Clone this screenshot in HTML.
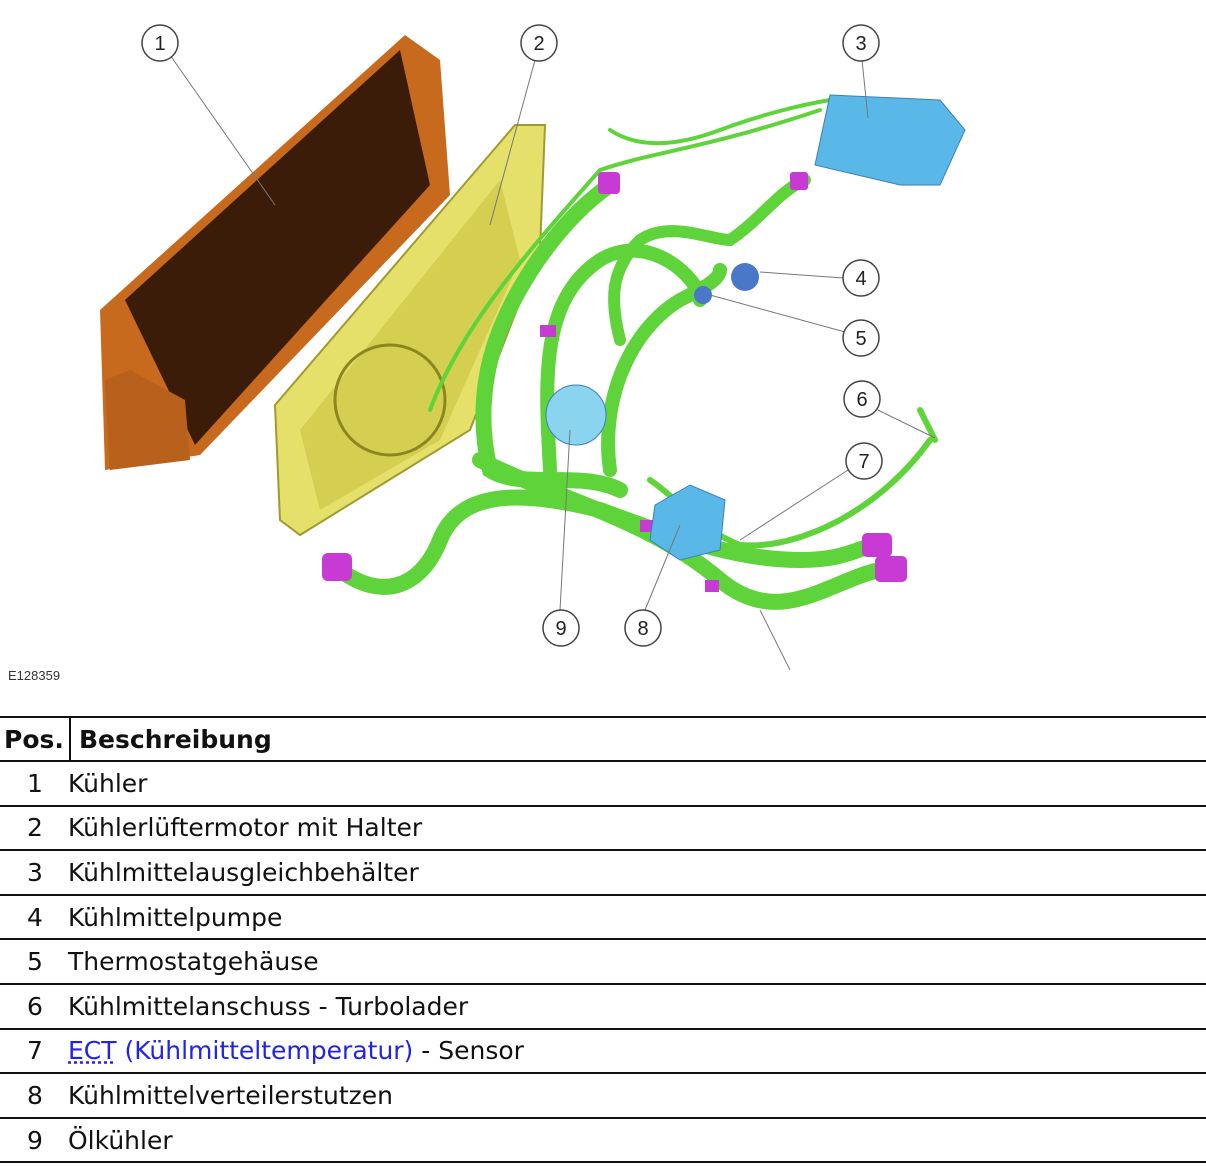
<!DOCTYPE html>
<html><head><meta charset="utf-8"><style>
body{margin:0;background:#fff;width:1206px;height:1166px;overflow:hidden;font-family:"DejaVu Sans","Liberation Sans",sans-serif;}
#d{position:absolute;left:0;top:0}
.code{position:absolute;left:8px;top:668px;font-size:13px;color:#333;font-family:"Liberation Sans",sans-serif}
table{position:absolute;left:0;top:716px;width:1206px;border-collapse:collapse;font-size:25px;color:#111}
td,th{border-top:2px solid #111;border-bottom:2px solid #111;padding:0;height:42.6px;text-align:left;white-space:nowrap}
th{font-weight:bold;height:42px}
td.n{width:70px;text-align:left;padding-left:27px;box-sizing:border-box}
td.t{text-indent:-2px}
th.n{width:70px;border-right:2px solid #111;padding-left:4px;box-sizing:border-box}
th.b{padding-left:8px}
a{color:#22e;text-decoration:underline dotted}
</style></head><body>
<svg id="d" width="1206" height="700" viewBox="0 0 1206 700">
<polygon points="100,310 405,35 440,60 450,195 200,455 105,470" fill="#c76a1e"/>
<polygon points="125,300 400,50 430,185 195,445" fill="#3a1c08"/>
<polygon points="105,380 130,370 185,400 190,460 110,470" fill="#b8611c"/>
<polygon points="275,405 515,125 545,125 540,250 470,430 300,535 280,520" fill="#e4e06a" stroke="#a09a30" stroke-width="2"/>
<polygon points="300,430 500,180 520,260 440,440 320,510" fill="#cfca4a" opacity=".8"/>
<circle cx="390" cy="400" r="55" fill="none" stroke="#8c8620" stroke-width="3"/>
<g fill="none" stroke="#5fd43a" stroke-linecap="round">
<path d="M340,570 C380,600 420,590 440,540 C460,490 520,490 600,510 C680,540 740,560 800,560 C850,560 860,545 880,545" stroke-width="16"/>
<path d="M480,460 C560,500 650,520 720,580 C780,630 830,580 880,570" stroke-width="16"/>
<path d="M610,185 C560,220 520,280 500,330 C480,380 480,430 490,470 C520,490 580,470 620,490" stroke-width="16"/>
<path d="M550,470 C545,380 540,300 600,260 C650,230 700,280 700,300" stroke-width="14"/>
<path d="M610,470 C600,400 630,330 680,300 C700,290 720,280 720,270" stroke-width="14"/>
<path d="M620,340 C610,300 610,270 640,240 C670,220 710,240 730,240 C760,220 780,190 805,180" stroke-width="12"/>
<path d="M650,480 C680,500 700,530 740,545 C800,550 880,510 930,440" stroke-width="6"/>
<path d="M430,410 C460,330 520,260 600,170 C660,150 700,150 820,110" stroke-width="4"/>
<path d="M610,130 C640,150 680,145 720,130 C760,115 800,105 830,100" stroke-width="4"/>
<path d="M920,410 L935,440" stroke-width="6"/>
</g>
<g fill="#c83ad4">
<rect x="322" y="553" width="30" height="28" rx="6"/>
<rect x="862" y="533" width="30" height="24" rx="5"/>
<rect x="875" y="556" width="32" height="26" rx="5"/>
<rect x="598" y="172" width="22" height="22" rx="4"/>
<rect x="790" y="172" width="18" height="18" rx="3"/>
<rect x="540" y="325" width="16" height="12"/>
<rect x="640" y="520" width="14" height="12"/>
<rect x="705" y="580" width="14" height="12"/>
</g>
<polygon points="830,95 940,100 965,130 940,185 900,185 815,165" fill="#5ab8e8" stroke="#3a80b8"/>
<circle cx="576" cy="415" r="30" fill="#8ad4ef" stroke="#3a80b8"/>
<polygon points="655,505 690,485 725,500 720,550 680,560 650,540" fill="#5ab8e8" stroke="#3a80b8"/>
<circle cx="745" cy="277" r="14" fill="#4a78c8"/>
<circle cx="703" cy="295" r="9" fill="#4a78c8"/>
<g stroke="#777" stroke-width="1" fill="none">
<line x1="170" y1="55" x2="275" y2="205"/>
<line x1="535" y1="60" x2="490" y2="225"/>
<line x1="862" y1="60" x2="868" y2="118"/>
<line x1="843" y1="278" x2="760" y2="272"/>
<line x1="845" y1="332" x2="710" y2="295"/>
<line x1="878" y1="410" x2="935" y2="438"/>
<line x1="848" y1="470" x2="740" y2="540"/>
<line x1="645" y1="610" x2="680" y2="525"/>
<line x1="560" y1="610" x2="570" y2="430"/>
<line x1="760" y1="610" x2="790" y2="670"/>
</g>
<g fill="#fff" stroke="#444" stroke-width="1.5">
<circle cx="160" cy="43" r="18"/><circle cx="539" cy="43" r="18"/><circle cx="861" cy="43" r="18"/>
<circle cx="861" cy="278" r="18"/><circle cx="861" cy="338" r="18"/><circle cx="862" cy="399" r="18"/>
<circle cx="864" cy="461" r="18"/><circle cx="643" cy="628" r="18"/><circle cx="561" cy="628" r="18"/>
</g>
<g fill="#222" font-family="Liberation Sans,sans-serif" font-size="20" text-anchor="middle">
<text x="160" y="50">1</text><text x="539" y="50">2</text><text x="861" y="50">3</text>
<text x="861" y="285">4</text><text x="861" y="345">5</text><text x="862" y="406">6</text>
<text x="864" y="468">7</text><text x="643" y="635">8</text><text x="561" y="635">9</text>
</g>
</svg>
<div class="code">E128359</div>
<table>
<tr><th class="n">Pos.</th><th class="b">Beschreibung</th></tr>
<tr><td class="n">1</td><td class="t">Kühler</td></tr>
<tr><td class="n">2</td><td class="t">Kühlerlüftermotor mit Halter</td></tr>
<tr><td class="n">3</td><td class="t">Kühlmittelausgleichbehälter</td></tr>
<tr><td class="n">4</td><td class="t">Kühlmittelpumpe</td></tr>
<tr><td class="n">5</td><td class="t">Thermostatgehäuse</td></tr>
<tr><td class="n">6</td><td class="t">Kühlmittelanschuss - Turbolader</td></tr>
<tr><td class="n">7</td><td class="t"><a>ECT</a> <span style="color:#22e">(Kühlmitteltemperatur)</span> - Sensor</td></tr>
<tr><td class="n">8</td><td class="t">Kühlmittelverteilerstutzen</td></tr>
<tr><td class="n">9</td><td class="t">Ölkühler</td></tr>
</table>
</body></html>
